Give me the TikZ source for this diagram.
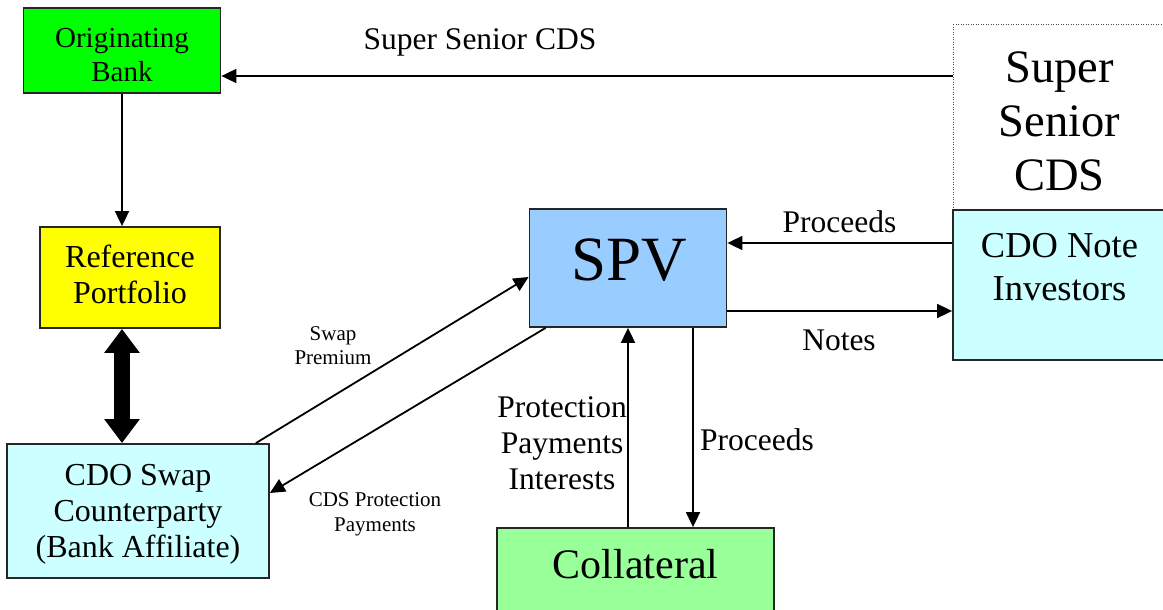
\documentclass[tikz,border=0pt]{standalone}
\usepackage{fontspec}
\setmainfont{Liberation Serif}
\usetikzlibrary{arrows.meta,calc}
\definecolor{bankgreen}{HTML}{00FF00}
\definecolor{portyellow}{HTML}{FFFF00}
\definecolor{palecyan}{HTML}{CCFFFF}
\definecolor{spvblue}{HTML}{99CCFF}
\definecolor{collgreen}{HTML}{99FF99}
\newcommand{\fs}[2]{\fontsize{#1}{#2}\selectfont}
\begin{document}
\begin{tikzpicture}[x=1pt,y=-1pt,
  box/.style={draw=black!85,line width=1.8pt,inner sep=0pt},
  dotbox/.style={draw=black!70,line width=1pt,dash pattern=on 1pt off 1.5pt,inner sep=0pt},
  txt/.style={inner sep=0pt,align=center},
  conn/.style={line width=1.8pt,-{Triangle[length=15pt,width=14pt]}},
  bigarrow/.style={line width=16pt,{Triangle[length=24pt,width=34pt]}-{Triangle[length=24pt,width=34pt]}}]
\useasboundingbox (0,0) rectangle (1163,610);

% boxes and their texts
\node[box,fill=bankgreen,minimum width=197pt,minimum height=85pt] (ob) at (122,50.5) {};
\node[txt,font=\fs{29}{34}] (obt) at (122,55) {Originating\\Bank};
\node[box,fill=portyellow,minimum width=180pt,minimum height=101pt] (rp) at (130,277.5) {};
\node[txt,font=\fs{32}{36}] (rpt) at (130,274.5) {Reference\\Portfolio};
\node[box,fill=palecyan,minimum width=262pt,minimum height=134pt] (cs) at (138,511) {};
\node[txt,font=\fs{32}{36}] (cst) at (138,514) {CDO Swap\\Counterparty\\(Bank Affiliate)};
\node[box,fill=spvblue,minimum width=197pt,minimum height=118pt] (spv) at (628,268) {};
\node[txt,font=\fs{63}{70}] (spvt) at (629,260) {SPV};
\node[dotbox,minimum width=213pt,minimum height=185pt] (ssc) at (1059.5,117.5) {};
\node[txt,font=\fs{46.5}{54}] (ssct) at (1059.5,121) {Super\\Senior\\CDS};
\node[box,fill=palecyan,minimum width=213pt,minimum height=150pt] (cni) at (1059.5,285) {};
\node[txt,font=\fs{36.5}{43}] (cnit) at (1059.5,267) {CDO Note\\Investors};
\node[box,fill=collgreen,minimum width=277pt,minimum height=112pt] (col) at (635.5,584) {};
\node[txt,font=\fs{42}{48}] (colt) at (635.5,564) {Collateral};

% connector anchor points
\coordinate (s1) at ($(ob.east)+(0,25.5)$);
\coordinate (p1) at ($(spv.east)+(0,-25)$);
\coordinate (n1) at ($(spv.east)+(0,43)$);
\coordinate (sw1) at ($(cs.north east)+(-14,0)$);
\coordinate (sw2) at ($(spv.west)+(0,9)$);
\coordinate (cp1) at ($(spv.south west)+(17,0)$);
\coordinate (cp2) at ($(cs.east)+(0,-18)$);
\coordinate (dn1) at ($(spv.south)+(65,0)$);

% connectors
\draw[conn] (ssc.west |- s1) -- (s1);
\draw[conn] (ob.south) -- (ob.south |- rp.north);
\draw[bigarrow] (ob.south |- rp.south) -- (ob.south |- cs.north);
\draw[conn] (sw1) -- (sw2);
\draw[conn] (cp1) -- (cp2);
\draw[conn] (spv.south |- col.north) -- (spv.south);
\draw[conn] (dn1) -- (dn1 |- col.north);
\draw[conn] (cni.west |- p1) -- (p1);
\draw[conn] (n1) -- (cni.west |- n1);

% flow labels
\node[txt,font=\fs{31.5}{36}] (lss) at (480,42) {Super Senior CDS};
\node[txt,font=\fs{31.5}{36}] (lpr1) at (839.5,222) {Proceeds};
\node[txt,font=\fs{31.5}{36}] (lnotes) at (839,340) {Notes};
\node[txt,font=\fs{31.5}{36}] (lpr2) at (757,440) {Proceeds};
\node[txt,font=\fs{31.5}{36}] (lprot) at (562,443) {Protection\\Payments\\Interests};
\node[txt,font=\fs{21}{24}] (lswap) at (333,345.5) {Swap\\Premium};
\node[txt,font=\fs{21}{25}] (lcds) at (375,514) {CDS Protection\\Payments};
\end{tikzpicture}
\end{document}
